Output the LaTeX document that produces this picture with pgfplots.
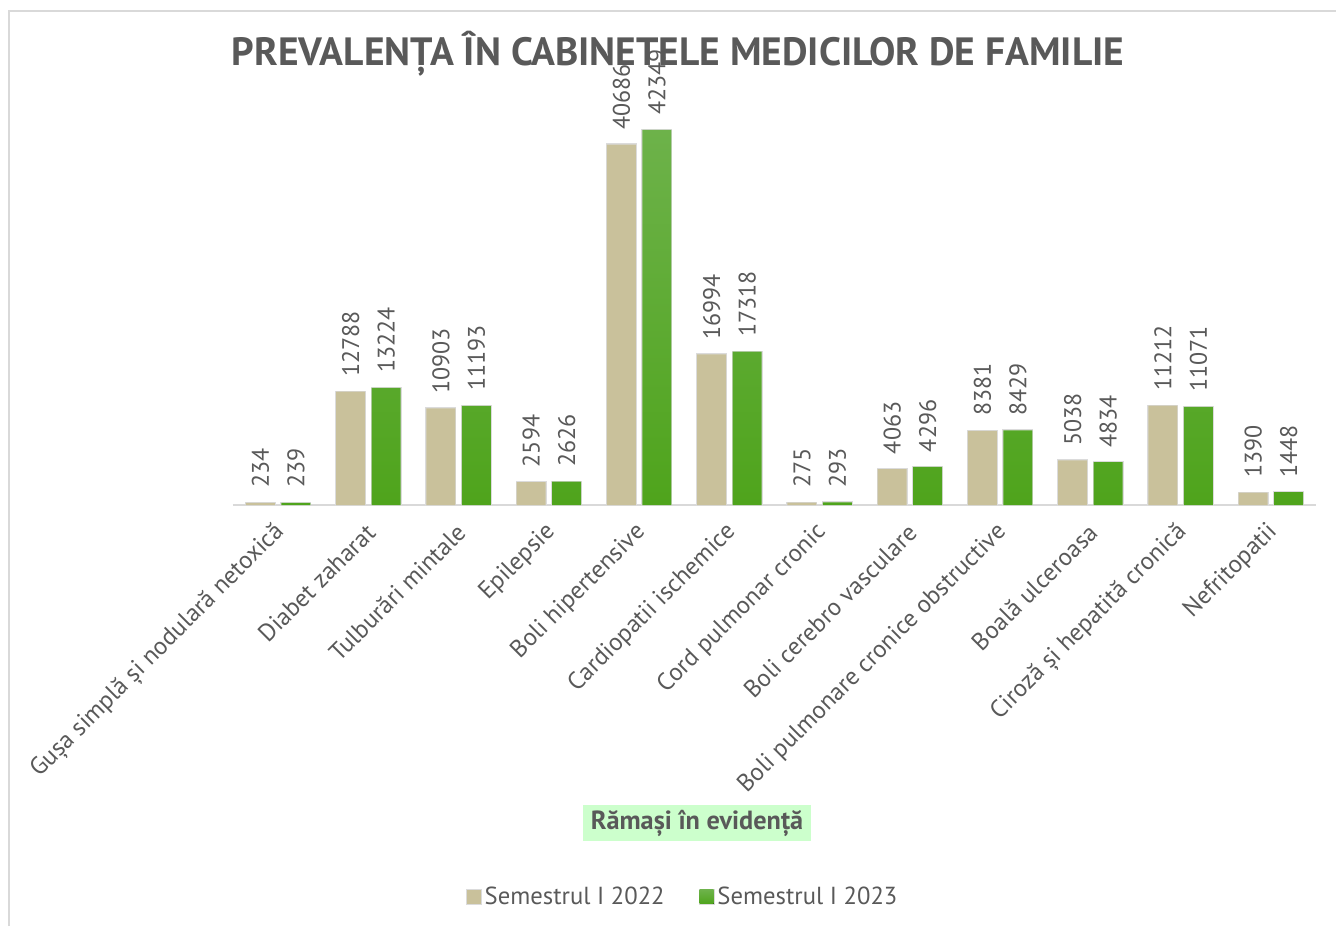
\documentclass[border=0pt]{standalone}
\usepackage{fontspec}
\setmainfont{PT Sans}
\usepackage{pgfplots}
\pgfplotsset{compat=1.18}
\definecolor{beige}{HTML}{C9C19B}
\definecolor{gtop}{HTML}{6DB24A}
\definecolor{gbot}{HTML}{4FA41C}
\definecolor{txt}{HTML}{595959}
\definecolor{greenbg}{HTML}{CCFFCC}
\definecolor{framec}{HTML}{D9D9D9}
\newcommand{\lblfont}{\fontsize{18.5pt}{22pt}\selectfont}
\begin{document}
\begin{tikzpicture}
\useasboundingbox (0,0) rectangle (1002pt,694.5pt);
\draw[framec, line width=1.5pt] (6.75pt,0) -- (6.75pt,686.25pt) -- (1002pt,686.25pt);
\begin{axis}[
  at={(174.75pt,315.75pt)}, anchor=south west,
  scale only axis, width=812.25pt, height=299pt,
  xmin=-0.5, xmax=11.5, ymin=0, ymax=45000,
  clip=false,
  ybar, bar width=21.75pt,
  hide y axis,
  axis x line*=bottom,
  x axis line style={draw=framec, line width=1.5pt, -},
  xtick={0,...,11},
  major tick length=0pt,
  xticklabels={{Gușa simplă și nodulară netoxică},{Diabet zaharat},{Tulburări mintale},{Epilepsie},{Boli hipertensive},{Cardiopatii ischemice},{Cord pulmonar cronic},{Boli cerebro vasculare},{Boli pulmonare cronice obstructive},{Boală ulceroasa},{Ciroză și hepatită cronică},{Nefritopatii}},
  xticklabel style={xshift=2pt, yshift=-17.5pt, rotate=45, anchor=east, font=\lblfont, text=txt, inner sep=0pt},
  /pgf/number format/1000 sep={},
  /pgf/number format/assume math mode=true,
  nodes near coords,
  nodes near coords style={rotate=90, anchor=west, font=\fontsize{18pt}{22pt}\selectfont, text=txt, inner xsep=11pt, inner ysep=0pt},
  title={PREVALENȚA ÎN CABINETELE MEDICILOR DE FAMILIE},
  title style={at={(rel axis cs:0.411,1.1115)}, anchor=center, font=\bfseries\fontsize{29.6pt}{34pt}\selectfont, text=txt},
  xlabel={Rămași în evidență},
  xlabel style={at={(rel axis cs:0.4284,-0.7976)}, anchor=center, fill=greenbg, text=txt, font=\bfseries\fontsize{19.7pt}{23pt}\selectfont, inner xsep=6pt, minimum height=27pt},
  legend columns=2,
  legend style={at={(rel axis cs:0.4155,-0.983)}, anchor=center, draw=none, fill=none, font=\lblfont, text=txt, /tikz/every even column/.append style={column sep=23.5pt}},
  legend image code/.code={\fill[#1] (0pt,-5.25pt) rectangle (10.5pt,5.25pt);},
]
\addplot[draw=none, fill=beige, bar shift=-13.3pt, preaction={draw=black!14, line width=1.6pt}] coordinates {
(0,234) (1,12788) (2,10903) (3,2594) (4,40686) (5,16994) (6,275) (7,4063) (8,8381) (9,5038) (10,11212) (11,1390)};
\addlegendentry{Semestrul I 2022}
\addplot[draw=none, top color=gtop, bottom color=gbot, bar shift=13.3pt, preaction={draw=black!14, line width=1.6pt}] coordinates {
(0,239) (1,13224) (2,11193) (3,2626) (4,42349) (5,17318) (6,293) (7,4296) (8,8429) (9,4834) (10,11071) (11,1448)};
\addlegendentry{Semestrul I 2023}
\end{axis}
\end{tikzpicture}
\end{document}
